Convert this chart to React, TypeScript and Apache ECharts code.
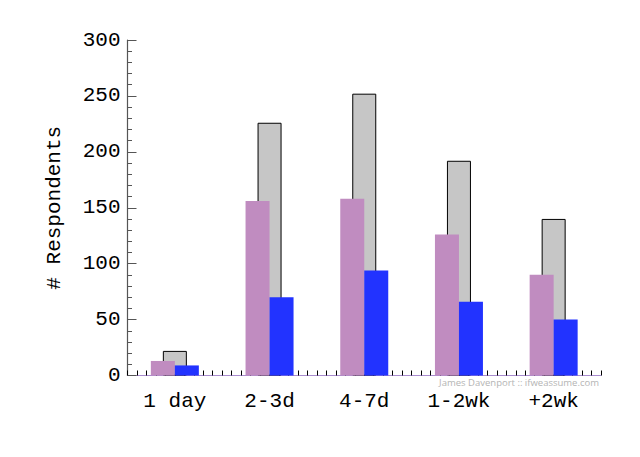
import React, { useEffect, useRef } from "react";
import * as echarts from "echarts";

const categories = ["1 day", "2-3d", "4-7d", "1-2wk", "+2wk"];
const totalValues = [22, 226, 252, 192, 140];
const purpleValues = [13, 156, 158, 126, 90];
const blueValues = [9, 70, 94, 66, 50];
const yAxisTitle = "# Respondents";
const creditText = "James Davenport :: ifweassume.com";

const FONT = "'Liberation Mono', monospace";

export default function App() {
  const ref = useRef<HTMLDivElement>(null);
  useEffect(() => {
    document.body.style.margin = "0";
    const chart = echarts.init(ref.current!, null, { renderer: "svg" });
    chart.setOption({
      animation: false,
      backgroundColor: "#ffffff",
      grid: { left: 127.5, right: 39, top: 40, bottom: 81.5 },
      xAxis: [
        {
          type: "category",
          data: categories,
          axisLine: { lineStyle: { color: "#a98ccf", width: 1.2 } },
          axisTick: { show: false },
          axisLabel: { color: "#000", fontFamily: FONT, fontSize: 21, margin: 15 },
          splitLine: { show: false },
        },
        {
          type: "value",
          min: 0,
          max: 50,
          interval: 1,
          position: "bottom",
          axisLine: { show: false },
          axisTick: { show: true, inside: true, length: 5, lineStyle: { color: "#000", width: 1 } },
          axisLabel: { show: false },
          splitLine: { show: false },
        },
      ],
      yAxis: {
        type: "value",
        min: 0,
        max: 300,
        interval: 50,
        name: yAxisTitle,
        nameLocation: "middle",
        nameGap: 63,
        nameTextStyle: { color: "#000", fontFamily: FONT, fontSize: 21 },
        axisLine: { show: true, lineStyle: { color: "#555", width: 1.2 } },
        axisTick: { show: true, inside: true, length: 9, lineStyle: { color: "#555" } },
        minorTick: { show: true, splitNumber: 5, length: 4.5, lineStyle: { color: "#555" } },
        axisLabel: { color: "#000", fontFamily: FONT, fontSize: 21, margin: 7 },
        splitLine: { show: false },
      },
      series: [
        {
          type: "bar",
          data: purpleValues,
          barWidth: 24,
          barGap: "-50%",
          z: 3,
          itemStyle: { color: "#c08cc0" },
        },
        {
          type: "bar",
          data: totalValues,
          barWidth: 24,
          barGap: "-50%",
          z: 2,
          itemStyle: { color: "#c6c6c6", borderColor: "#000", borderWidth: 1 },
        },
        {
          type: "bar",
          data: blueValues,
          barWidth: 24,
          barGap: "-50%",
          z: 3,
          itemStyle: { color: "#2233ff" },
        },
      ],
      graphic: [
        {
          type: "text",
          right: 41,
          top: 377,
          style: {
            text: creditText,
            fill: "#b4b4b4",
            fontFamily: "'Open Sans', sans-serif",
            fontSize: 9.5,
          },
        },
      ],
    });
    return () => chart.dispose();
  }, []);
  return <div ref={ref} style={{ width: 640, height: 457, position: "fixed", left: 0, top: 0 }} />;
}
